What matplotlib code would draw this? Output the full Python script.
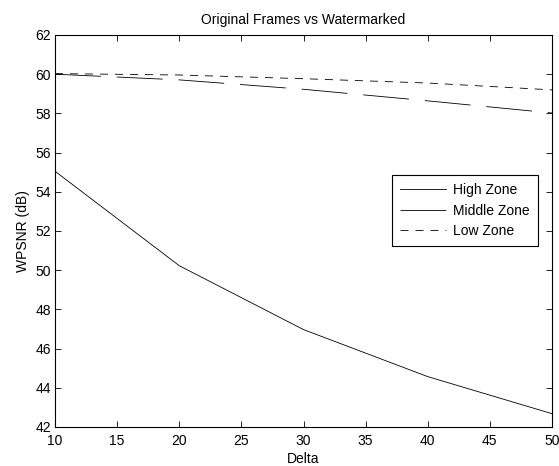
import matplotlib
matplotlib.use('Agg')
import matplotlib.pyplot as plt

plt.rcParams['font.family'] = ['Liberation Sans', 'DejaVu Sans']
plt.rcParams['lines.scale_dashes'] = False

# WPSNR (dB) for each zone at the tested delta values
delta = [10, 20, 30, 40, 50]
high_zone = [55.05, 50.23, 46.97, 44.57, 42.68]
middle_zone = [60.0, 59.71, 59.23, 58.64, 58.02]
low_zone = [60.03, 59.96, 59.77, 59.55, 59.2]

fig = plt.figure(figsize=(5.59, 4.66), dpi=100)
ax = fig.add_axes([55 / 559, 1 - 427 / 466, 497 / 559, 392 / 466])

ax.plot(delta, high_zone, color='black', lw=0.6, label='High Zone')
ax.plot(delta, middle_zone, color='black', lw=0.6,
        linestyle=(0, (33, 11.5)), label='Middle Zone')
ax.plot(delta, low_zone, color='black', lw=0.6,
        linestyle=(0, (5.8, 5.0)), label='Low Zone')

ax.set_xlim(10, 50)
ax.set_ylim(42, 62)
ax.set_xticks(range(10, 51, 5))
ax.set_yticks(range(42, 63, 2))
ax.tick_params(direction='in', top=True, right=True, labelsize=10,
               length=4, width=0.6)
ax.tick_params(axis='x', pad=5)
ax.tick_params(axis='y', pad=3)
for sp in ax.spines.values():
    sp.set_linewidth(0.8)

ax.set_title('Original Frames vs Watermarked', fontsize=10, pad=8)
ax.set_xlabel('Delta', fontsize=10, labelpad=3)
ax.set_ylabel('WPSNR (dB)', fontsize=10, labelpad=4)

leg = ax.legend(loc='upper right', bbox_to_anchor=(0.972, 0.643),
                fontsize=10, handlelength=3.3, frameon=True, fancybox=False,
                edgecolor='black', framealpha=1, borderaxespad=0,
                labelspacing=0.45, handletextpad=0.5, borderpad=0.6)
leg.get_frame().set_linewidth(0.8)

fig.savefig('out.png', dpi=100)
